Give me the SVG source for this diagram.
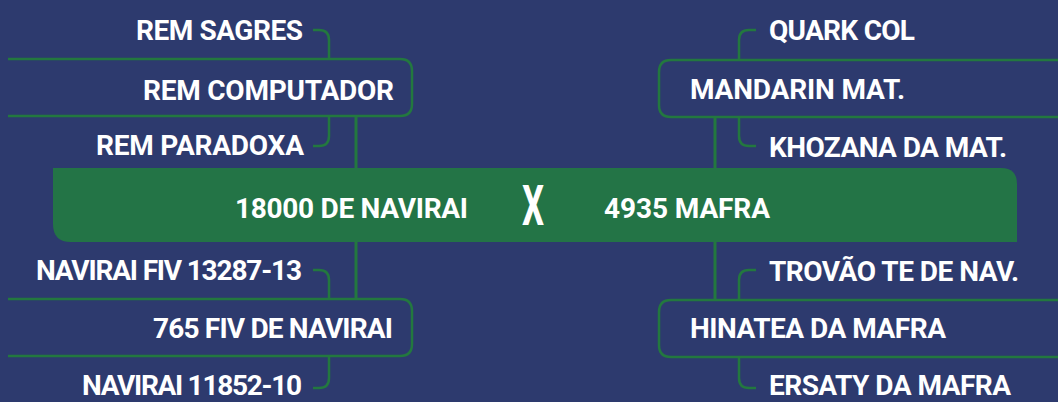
<svg xmlns="http://www.w3.org/2000/svg" width="1058" height="402" viewBox="0 0 1058 402">
<style>
.bg{fill:#2d3a6e}
.bar{fill:#237446}
.ln{fill:none;stroke:#23783f;stroke-width:2.5}
.tr{stroke-width:3}
.t{font-family:Roboto,"Liberation Sans",sans-serif;font-weight:700;font-size:28px;fill:#ffffff}
.r{text-anchor:end}
</style>
<rect class="bg" x="0" y="0" width="1058" height="402"/>
<g id="connectors">
  <path class="ln tr" d="M356,116 V168"/>
  <path class="ln tr" d="M356,242 V299"/>
  <path class="ln tr" d="M715,117 V168"/>
  <path class="ln tr" d="M715,242 V300"/>
  <path class="ln" d="M313,30 H319 Q329,30 329,40 V59"/>
  <path class="ln" d="M329,116 V136 Q329,146 319,146 H313"/>
  <path class="ln" d="M313,270 H319 Q329,270 329,280 V299"/>
  <path class="ln" d="M329,356 V378 Q329,388 319,388 H313"/>
  <path class="ln" d="M756,30 H749 Q739,30 739,40 V60"/>
  <path class="ln" d="M739,117 V136 Q739,146 749,146 H756"/>
  <path class="ln" d="M756,270 H749 Q739,270 739,280 V300"/>
  <path class="ln" d="M739,357 V378 Q739,388 749,388 H756"/>
</g>
<g id="center">
  <path class="bar" d="M53,168 H1001 Q1017,168 1017,184 V242 H71 Q53,242 53,224 Z"/>
  <text class="t" x="235" y="218" textLength="233" lengthAdjust="spacing">18000 DE NAVIRAI</text>
  <text class="t" transform="translate(533,225) scale(0.62,1)" text-anchor="middle" style="font-size:56px">X</text>
  <text class="t" x="604" y="218" textLength="166" lengthAdjust="spacing">4935 MAFRA</text>
</g>
<g id="rem-computador">
  <path class="ln" d="M8,59 H400 Q412,59 412,71 V104 Q412,116 400,116 H8"/>
  <text class="t" x="143" y="100" textLength="251" lengthAdjust="spacing">REM COMPUTADOR</text>
</g>
<g id="rem-sagres"><text class="t" x="136" y="40" textLength="167" lengthAdjust="spacing">REM SAGRES</text></g>
<g id="rem-paradoxa"><text class="t" x="96" y="155" textLength="208" lengthAdjust="spacing">REM PARADOXA</text></g>
<g id="fiv-navirai">
  <path class="ln" d="M8,299 H400 Q412,299 412,311 V344 Q412,356 400,356 H8"/>
  <text class="t" x="153" y="338" textLength="240" lengthAdjust="spacing">765 FIV DE NAVIRAI</text>
</g>
<g id="navirai-fiv"><text class="t" x="36" y="280" textLength="266" lengthAdjust="spacing">NAVIRAI FIV 13287-13</text></g>
<g id="navirai-11852"><text class="t" x="82" y="395" textLength="220" lengthAdjust="spacing">NAVIRAI 11852-10</text></g>
<g id="mandarin">
  <path class="ln" d="M1060,60 H671 Q659,60 659,72 V105 Q659,117 671,117 H1060"/>
  <text class="t" x="690" y="99" textLength="215" lengthAdjust="spacing">MANDARIN MAT.</text>
</g>
<g id="quark"><text class="t" x="769" y="40" textLength="146" lengthAdjust="spacing">QUARK COL</text></g>
<g id="khozana"><text class="t" x="769" y="157" textLength="238" lengthAdjust="spacing">KHOZANA DA MAT.</text></g>
<g id="hinatea">
  <path class="ln" d="M1060,300 H671 Q659,300 659,312 V345 Q659,357 671,357 H1060"/>
  <text class="t" x="690" y="338" textLength="256" lengthAdjust="spacing">HINATEA DA MAFRA</text>
</g>
<g id="trovao"><text class="t" x="769" y="281" textLength="250" lengthAdjust="spacing">TROVÃO TE DE NAV.</text></g>
<g id="ersaty"><text class="t" x="769" y="395" textLength="242" lengthAdjust="spacing">ERSATY DA MAFRA</text></g>
</svg>
